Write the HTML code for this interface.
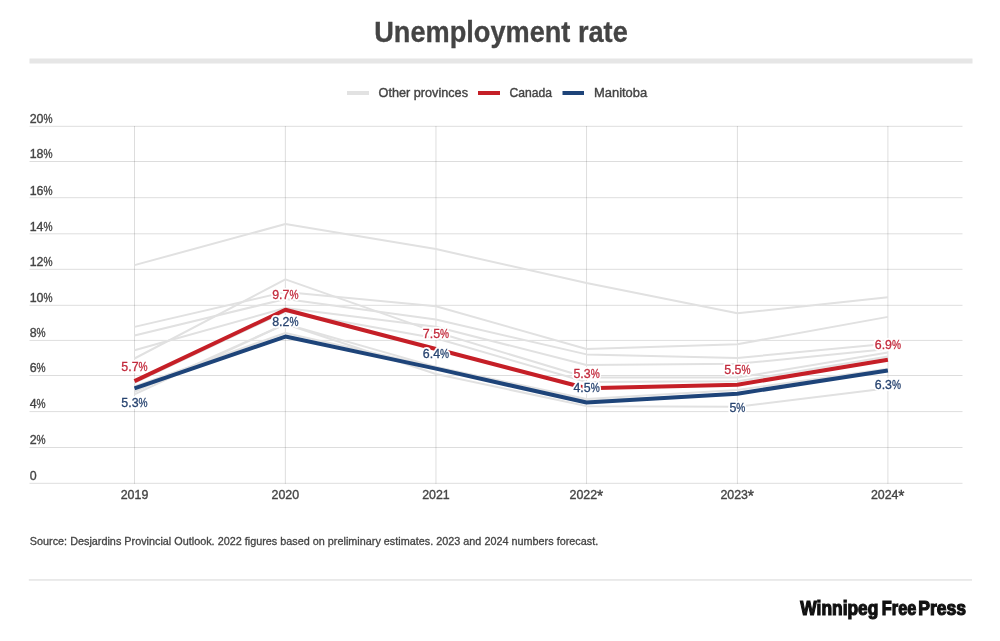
<!DOCTYPE html>
<html><head><meta charset="utf-8">
<style>
html,body{margin:0;padding:0;background:#fff;}
body{width:1000px;height:641px;overflow:hidden;position:relative;font-family:"Liberation Sans",sans-serif;}
svg{position:absolute;left:0;top:0;will-change:transform;}
text{font-family:"Liberation Sans",sans-serif;}
.ax{font-size:12.4px;fill:#444;stroke:#444;stroke-width:0.35px;}
.halo{font-size:12.4px;fill:#fff;stroke:#fff;stroke-width:4px;stroke-linejoin:round;}
.dl{font-size:12.4px;stroke-width:0.3px;}
.lg{font-size:12.7px;fill:#444;stroke:#444;stroke-width:0.4px;}
.logo{font-size:20px;font-weight:bold;fill:#111;stroke:#111;stroke-width:1.2px;}
</style></head><body>
<svg width="1000" height="641" viewBox="0 0 1000 641">
<text x="374.2" y="41.7" font-weight="bold" font-size="28.8" fill="#444" stroke="#444" stroke-width="0.3" textLength="253.6" lengthAdjust="spacingAndGlyphs">Unemployment rate</text>
<rect x="29.5" y="58.5" width="943" height="5" fill="#e6e6e6"/>
<rect x="347" y="91" width="22" height="4" fill="#e2e2e2"/>
<text x="378.6" y="96.8" class="lg" textLength="89.4" lengthAdjust="spacingAndGlyphs">Other provinces</text>
<rect x="478" y="91" width="22" height="4" fill="#c51f27"/>
<text x="509.5" y="96.8" class="lg" textLength="42.6" lengthAdjust="spacingAndGlyphs">Canada</text>
<rect x="562.5" y="91" width="21.5" height="4" fill="#1e4479"/>
<text x="594" y="96.8" class="lg" textLength="53.2" lengthAdjust="spacingAndGlyphs">Manitoba</text>
<rect x="29.5" y="125.80" width="933" height="1" fill="rgba(0,0,0,0.135)"/>
<rect x="29.5" y="161.00" width="933" height="1" fill="rgba(0,0,0,0.135)"/>
<rect x="29.5" y="197.20" width="933" height="1" fill="rgba(0,0,0,0.135)"/>
<rect x="29.5" y="233.30" width="933" height="1" fill="rgba(0,0,0,0.135)"/>
<rect x="29.5" y="268.80" width="933" height="1" fill="rgba(0,0,0,0.135)"/>
<rect x="29.5" y="304.80" width="933" height="1" fill="rgba(0,0,0,0.135)"/>
<rect x="29.5" y="339.90" width="933" height="1" fill="rgba(0,0,0,0.135)"/>
<rect x="29.5" y="375.00" width="933" height="1" fill="rgba(0,0,0,0.135)"/>
<rect x="29.5" y="411.10" width="933" height="1" fill="rgba(0,0,0,0.135)"/>
<rect x="29.5" y="447.00" width="933" height="1" fill="rgba(0,0,0,0.135)"/>
<rect x="29.5" y="482.80" width="933" height="1" fill="rgba(0,0,0,0.135)"/>
<rect x="134.00" y="126" width="1" height="357.8" fill="rgba(0,0,0,0.135)"/>
<rect x="284.85" y="126" width="1" height="357.8" fill="rgba(0,0,0,0.135)"/>
<rect x="435.45" y="126" width="1" height="357.8" fill="rgba(0,0,0,0.135)"/>
<rect x="586.05" y="126" width="1" height="357.8" fill="rgba(0,0,0,0.135)"/>
<rect x="736.90" y="126" width="1" height="357.8" fill="rgba(0,0,0,0.135)"/>
<rect x="887.40" y="126" width="1" height="357.8" fill="rgba(0,0,0,0.135)"/>
<polyline points="134.5,265.13 285.4,224.07 435.9,249.06 586.5,282.98 737.4,313.32 887.9,297.26" fill="none" stroke="#e1e1e1" stroke-width="2" stroke-linejoin="round"/>
<polyline points="134.5,326.89 285.4,291.90 435.9,306.18 586.5,349.02 737.4,344.21 887.9,316.89" fill="none" stroke="#e1e1e1" stroke-width="2" stroke-linejoin="round"/>
<polyline points="134.5,335.46 285.4,299.04 435.9,319.57 586.5,354.38 737.4,357.95 887.9,343.67" fill="none" stroke="#e1e1e1" stroke-width="2" stroke-linejoin="round"/>
<polyline points="134.5,350.27 285.4,307.97 435.9,326.71 586.5,365.09 737.4,363.84 887.9,349.02" fill="none" stroke="#e1e1e1" stroke-width="2" stroke-linejoin="round"/>
<polyline points="134.5,358.49 285.4,279.41 435.9,332.07 586.5,377.58 737.4,377.58 887.9,352.59" fill="none" stroke="#e1e1e1" stroke-width="2" stroke-linejoin="round"/>
<polyline points="134.5,382.94 285.4,311.54 435.9,338.31 586.5,382.05 737.4,381.33 887.9,356.52" fill="none" stroke="#e1e1e1" stroke-width="2" stroke-linejoin="round"/>
<polyline points="134.5,386.51 285.4,332.96 435.9,366.88 586.5,399.00 737.4,390.08 887.9,368.66" fill="none" stroke="#e1e1e1" stroke-width="2" stroke-linejoin="round"/>
<polyline points="134.5,394.36 285.4,324.03 435.9,366.88 586.5,400.79 737.4,393.65 887.9,370.44" fill="none" stroke="#e1e1e1" stroke-width="2" stroke-linejoin="round"/>
<polyline points="134.5,391.87 285.4,324.03 435.9,374.01 586.5,406.14 737.4,406.68 887.9,388.29" fill="none" stroke="#e1e1e1" stroke-width="2" stroke-linejoin="round"/>
<polyline points="134.5,388.29 285.4,336.53 435.9,368.66 586.5,402.57 737.4,393.65 887.9,370.44" fill="none" stroke="#1e4479" stroke-width="4" stroke-linejoin="round"/>
<polyline points="134.5,381.15 285.4,309.75 435.9,349.02 586.5,388.29 737.4,384.72 887.9,359.73" fill="none" stroke="#c51f27" stroke-width="4" stroke-linejoin="round"/>
<text x="29.70" y="123.10" class="ax">20</text>
<text x="43.49" y="123.10" class="ax" textLength="9.05" lengthAdjust="spacingAndGlyphs">%</text>
<text x="29.70" y="158.30" class="ax">18</text>
<text x="43.49" y="158.30" class="ax" textLength="9.05" lengthAdjust="spacingAndGlyphs">%</text>
<text x="29.70" y="194.50" class="ax">16</text>
<text x="43.49" y="194.50" class="ax" textLength="9.05" lengthAdjust="spacingAndGlyphs">%</text>
<text x="29.70" y="230.60" class="ax">14</text>
<text x="43.49" y="230.60" class="ax" textLength="9.05" lengthAdjust="spacingAndGlyphs">%</text>
<text x="29.70" y="266.10" class="ax">12</text>
<text x="43.49" y="266.10" class="ax" textLength="9.05" lengthAdjust="spacingAndGlyphs">%</text>
<text x="29.70" y="302.10" class="ax">10</text>
<text x="43.49" y="302.10" class="ax" textLength="9.05" lengthAdjust="spacingAndGlyphs">%</text>
<text x="29.70" y="337.20" class="ax">8</text>
<text x="36.59" y="337.20" class="ax" textLength="9.05" lengthAdjust="spacingAndGlyphs">%</text>
<text x="29.70" y="372.30" class="ax">6</text>
<text x="36.59" y="372.30" class="ax" textLength="9.05" lengthAdjust="spacingAndGlyphs">%</text>
<text x="29.70" y="408.40" class="ax">4</text>
<text x="36.59" y="408.40" class="ax" textLength="9.05" lengthAdjust="spacingAndGlyphs">%</text>
<text x="29.70" y="444.30" class="ax">2</text>
<text x="36.59" y="444.30" class="ax" textLength="9.05" lengthAdjust="spacingAndGlyphs">%</text>
<text x="29.70" y="480.10" class="ax">0</text>
<text x="120.71" y="499.20" class="ax">2019</text>
<text x="271.56" y="499.20" class="ax">2020</text>
<text x="422.16" y="499.20" class="ax">2021</text>
<text x="569.54" y="499.20" class="ax">2022</text>
<text x="597.01" y="501.70" class="ax" style="font-size:15.87px">*</text>
<text x="720.39" y="499.20" class="ax">2023</text>
<text x="747.86" y="501.70" class="ax" style="font-size:15.87px">*</text>
<text x="870.89" y="499.20" class="ax">2024</text>
<text x="898.36" y="501.70" class="ax" style="font-size:15.87px">*</text>
<text x="121.36" y="370.55" class="halo">5.7</text>
<text x="138.59" y="370.55" class="halo" textLength="9.05" lengthAdjust="spacingAndGlyphs">%</text>
<text x="272.21" y="299.15" class="halo">9.7</text>
<text x="289.44" y="299.15" class="halo" textLength="9.05" lengthAdjust="spacingAndGlyphs">%</text>
<text x="422.81" y="338.42" class="halo">7.5</text>
<text x="440.04" y="338.42" class="halo" textLength="9.05" lengthAdjust="spacingAndGlyphs">%</text>
<text x="573.41" y="377.69" class="halo">5.3</text>
<text x="590.64" y="377.69" class="halo" textLength="9.05" lengthAdjust="spacingAndGlyphs">%</text>
<text x="724.26" y="374.12" class="halo">5.5</text>
<text x="741.49" y="374.12" class="halo" textLength="9.05" lengthAdjust="spacingAndGlyphs">%</text>
<text x="874.76" y="349.13" class="halo">6.9</text>
<text x="891.99" y="349.13" class="halo" textLength="9.05" lengthAdjust="spacingAndGlyphs">%</text>
<text x="121.36" y="407.09" class="halo">5.3</text>
<text x="138.59" y="407.09" class="halo" textLength="9.05" lengthAdjust="spacingAndGlyphs">%</text>
<text x="272.21" y="325.93" class="halo">8.2</text>
<text x="289.44" y="325.93" class="halo" textLength="9.05" lengthAdjust="spacingAndGlyphs">%</text>
<text x="422.81" y="358.06" class="halo">6.4</text>
<text x="440.04" y="358.06" class="halo" textLength="9.05" lengthAdjust="spacingAndGlyphs">%</text>
<text x="573.41" y="391.97" class="halo">4.5</text>
<text x="590.64" y="391.97" class="halo" textLength="9.05" lengthAdjust="spacingAndGlyphs">%</text>
<text x="729.43" y="412.45" class="halo">5</text>
<text x="736.32" y="412.45" class="halo" textLength="9.05" lengthAdjust="spacingAndGlyphs">%</text>
<text x="874.76" y="389.24" class="halo">6.3</text>
<text x="891.99" y="389.24" class="halo" textLength="9.05" lengthAdjust="spacingAndGlyphs">%</text>
<text x="121.36" y="370.55" class="dl" fill="#c32b3d" stroke="#c32b3d">5.7</text>
<text x="138.59" y="370.55" class="dl" fill="#c32b3d" stroke="#c32b3d" textLength="9.05" lengthAdjust="spacingAndGlyphs">%</text>
<text x="272.21" y="299.15" class="dl" fill="#c32b3d" stroke="#c32b3d">9.7</text>
<text x="289.44" y="299.15" class="dl" fill="#c32b3d" stroke="#c32b3d" textLength="9.05" lengthAdjust="spacingAndGlyphs">%</text>
<text x="422.81" y="338.42" class="dl" fill="#c32b3d" stroke="#c32b3d">7.5</text>
<text x="440.04" y="338.42" class="dl" fill="#c32b3d" stroke="#c32b3d" textLength="9.05" lengthAdjust="spacingAndGlyphs">%</text>
<text x="573.41" y="377.69" class="dl" fill="#c32b3d" stroke="#c32b3d">5.3</text>
<text x="590.64" y="377.69" class="dl" fill="#c32b3d" stroke="#c32b3d" textLength="9.05" lengthAdjust="spacingAndGlyphs">%</text>
<text x="724.26" y="374.12" class="dl" fill="#c32b3d" stroke="#c32b3d">5.5</text>
<text x="741.49" y="374.12" class="dl" fill="#c32b3d" stroke="#c32b3d" textLength="9.05" lengthAdjust="spacingAndGlyphs">%</text>
<text x="874.76" y="349.13" class="dl" fill="#c32b3d" stroke="#c32b3d">6.9</text>
<text x="891.99" y="349.13" class="dl" fill="#c32b3d" stroke="#c32b3d" textLength="9.05" lengthAdjust="spacingAndGlyphs">%</text>
<text x="121.36" y="407.09" class="dl" fill="#284470" stroke="#284470">5.3</text>
<text x="138.59" y="407.09" class="dl" fill="#284470" stroke="#284470" textLength="9.05" lengthAdjust="spacingAndGlyphs">%</text>
<text x="272.21" y="325.93" class="dl" fill="#284470" stroke="#284470">8.2</text>
<text x="289.44" y="325.93" class="dl" fill="#284470" stroke="#284470" textLength="9.05" lengthAdjust="spacingAndGlyphs">%</text>
<text x="422.81" y="358.06" class="dl" fill="#284470" stroke="#284470">6.4</text>
<text x="440.04" y="358.06" class="dl" fill="#284470" stroke="#284470" textLength="9.05" lengthAdjust="spacingAndGlyphs">%</text>
<text x="573.41" y="391.97" class="dl" fill="#284470" stroke="#284470">4.5</text>
<text x="590.64" y="391.97" class="dl" fill="#284470" stroke="#284470" textLength="9.05" lengthAdjust="spacingAndGlyphs">%</text>
<text x="729.43" y="412.45" class="dl" fill="#284470" stroke="#284470">5</text>
<text x="736.32" y="412.45" class="dl" fill="#284470" stroke="#284470" textLength="9.05" lengthAdjust="spacingAndGlyphs">%</text>
<text x="874.76" y="389.24" class="dl" fill="#284470" stroke="#284470">6.3</text>
<text x="891.99" y="389.24" class="dl" fill="#284470" stroke="#284470" textLength="9.05" lengthAdjust="spacingAndGlyphs">%</text>
<text x="29.8" y="545" font-size="11" fill="#444" stroke="#444" stroke-width="0.3" textLength="568.4" lengthAdjust="spacingAndGlyphs">Source: Desjardins Provincial Outlook. 2022 figures based on preliminary estimates. 2023 and 2024 numbers forecast.</text>
<rect x="28.8" y="579.2" width="943.2" height="1.5" fill="#e4e4e4"/>
<text x="800.3" y="614.6" class="logo" textLength="78.1" lengthAdjust="spacingAndGlyphs">Winnipeg</text>
<text x="881.8" y="614.6" class="logo" textLength="34.5" lengthAdjust="spacingAndGlyphs">Free</text>
<text x="918.3" y="614.6" class="logo" textLength="47.8" lengthAdjust="spacingAndGlyphs">Press</text>
</svg>
</body></html>
